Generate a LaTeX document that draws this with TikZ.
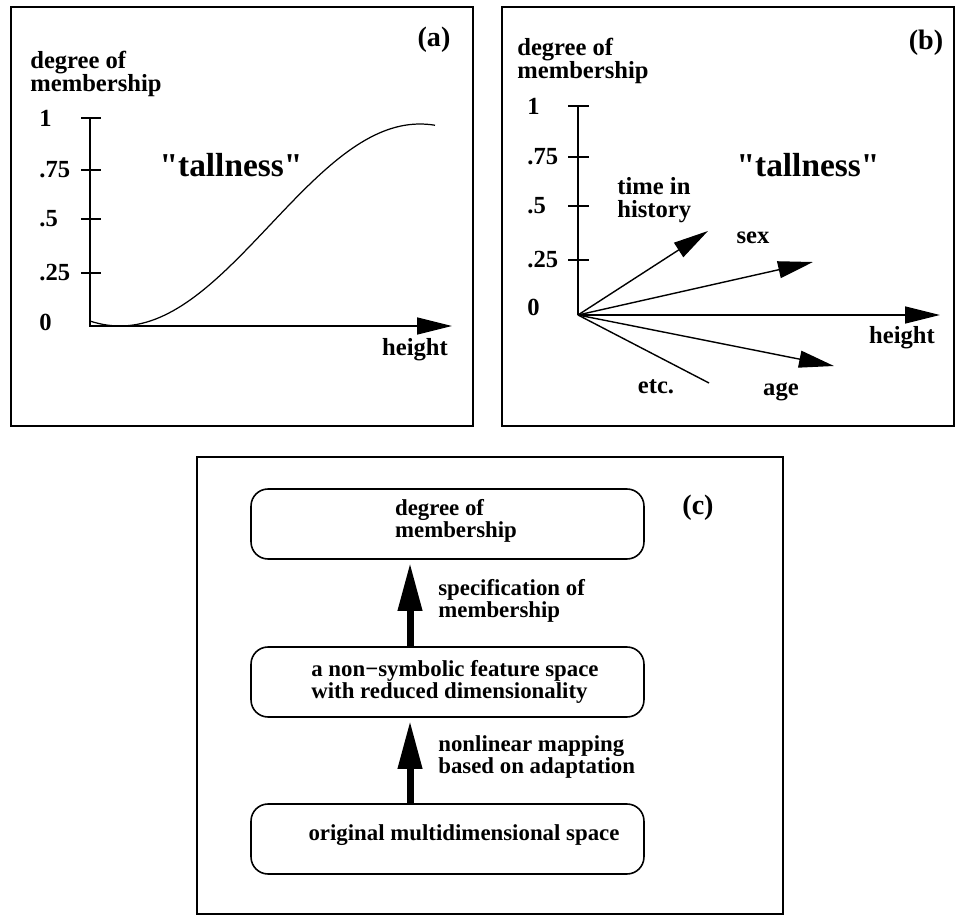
\documentclass[tikz,border=0pt]{standalone}
\usepackage{fontspec}
\setmainfont{Liberation Serif}
\newfontfamily\titlefont[Ligatures=TeXOff]{Liberation Serif}
\usepackage{tikz}
\usetikzlibrary{arrows.meta, positioning, calc}

\begin{document}
\begin{tikzpicture}[
    x=0.02cm, y=-0.02cm,
    frame/.style={draw, line width=0.9pt},
    lbl/.style={font=\fontsize{14}{13}\selectfont\bfseries, inner sep=0pt},
    boxlbl/.style={font=\fontsize{13}{12.5}\selectfont\bfseries, inner sep=0pt},
    title/.style={font=\titlefont\fontsize{19}{20}\selectfont\bfseries, inner sep=0pt},
    tag/.style={font=\fontsize{16}{18}\selectfont\bfseries, inner sep=0pt},
    axis/.style={line width=0.8pt},
    axisarrow/.style={line width=0.8pt, -{Triangle[length=0.7cm, width=0.34cm]}},
    stage/.style={draw, line width=0.9pt, minimum width=7.86cm, minimum height=1.4cm, rounded corners=0.34cm},
    fatarrow/.style={line width=0.14cm, -{Triangle[length=0.96cm, width=0.46cm]}}
]
    \useasboundingbox (0,0) rectangle (965,916);

    % Panel (a)
    \draw[frame] (11,7) rectangle (473,426);
    \node[tag] (tagA) at (434,40) {(a)};
    \node[lbl, align=left, anchor=west] (yA) at (30,74) {degree of\\membership};
    \coordinate (aTop) at (90,118);
    \coordinate (aO) at (90,326);
    \coordinate (aEnd) at (452,326);
    \draw[axisarrow] (aTop) -- (aO) -- (aEnd);
    \foreach \y/\t in {118/1, 170/.75, 219/.5, 273/.25} {
        \draw[axis] (81,\y) -- (101,\y);
        \node[lbl, anchor=west] at (39,\y) {\t};
    }
    \node[lbl, anchor=west] (zeroA) at (39,322) {0};
    \node[lbl] (hA) at (415,350) {height};
    \node[title] (tallA) at (231,165) {"tallness"};
    \draw[line width=0.7pt] plot[domain=90:435, samples=80] (\x, {326-101*(1-cos((\x-120)*0.6))});

    % Panel (b)
    \draw[frame] (502,7) rectangle (954,426);
    \node[tag] (tagB) at (926,43) {(b)};
    \node[lbl, align=left, anchor=west] (yB) at (517,61) {degree of\\membership};
    \coordinate (bTop) at (578,106);
    \coordinate (bO) at (578,315);
    \coordinate (bHeight) at (940,315);
    \coordinate (bTime) at (708,231);
    \coordinate (bSex) at (813,262);
    \coordinate (bAge) at (834,366);
    \coordinate (bEtc) at (709,383);
    \draw[axis] (bTop) -- (bO);
    \foreach \y/\t in {106/1, 157/.75, 206/.5, 260/.25} {
        \draw[axis] (568,\y) -- (589,\y);
        \node[lbl, anchor=west] at (527,\y) {\t};
    }
    \node[lbl, anchor=west] (zeroB) at (527,307) {0};
    \draw[axisarrow] (bO) -- (bHeight);
    \draw[axisarrow] (bO) -- (bTime);
    \draw[axisarrow] (bO) -- (bSex);
    \draw[axisarrow] (bO) -- (bAge);
    \draw[axis] (bO) -- (bEtc);
    \node[title] (tallB) at (808,165) {"tallness"};
    \node[lbl, align=left, anchor=west] (timeB) at (617,200) {time in\\history};
    \node[lbl] (sexB) at (753,238) {sex};
    \node[lbl] (hB) at (902,338) {height};
    \node[lbl] (etcB) at (656,387) {etc.};
    \node[lbl] (ageB) at (781,392) {age};

    % Panel (c)
    \draw[frame] (197,457) rectangle (783,914);
    \node[tag] (tagC) at (698,508) {(c)};
    \node[stage] (deg) at (447.5,524) {};
    \node[boxlbl, align=left] (degTxt) at (456,521) {degree of\\membership};
    \node[stage] (feat) at (447.5,682) {};
    \node[boxlbl, align=left] (featTxt) at (455,682) {a non\textminus symbolic feature space\\with reduced dimensionality};
    \node[stage] (orig) at (447.5,839) {};
    \node[boxlbl] (origTxt) at (464,835) {original multidimensional space};
    \draw[fatarrow, shorten >=0.06cm] ([xshift=-0.75cm]feat.north) -- ([xshift=-0.75cm]deg.south);
    \draw[fatarrow, shorten >=0.06cm] ([xshift=-0.75cm]orig.north) -- ([xshift=-0.75cm]feat.south);
    \node[boxlbl, align=left, anchor=west] (specLbl) at (438,601) {specification of\\membership};
    \node[boxlbl, align=left, anchor=west] (mapLbl) at (438,757) {nonlinear mapping\\based on adaptation};
\end{tikzpicture}
\end{document}
